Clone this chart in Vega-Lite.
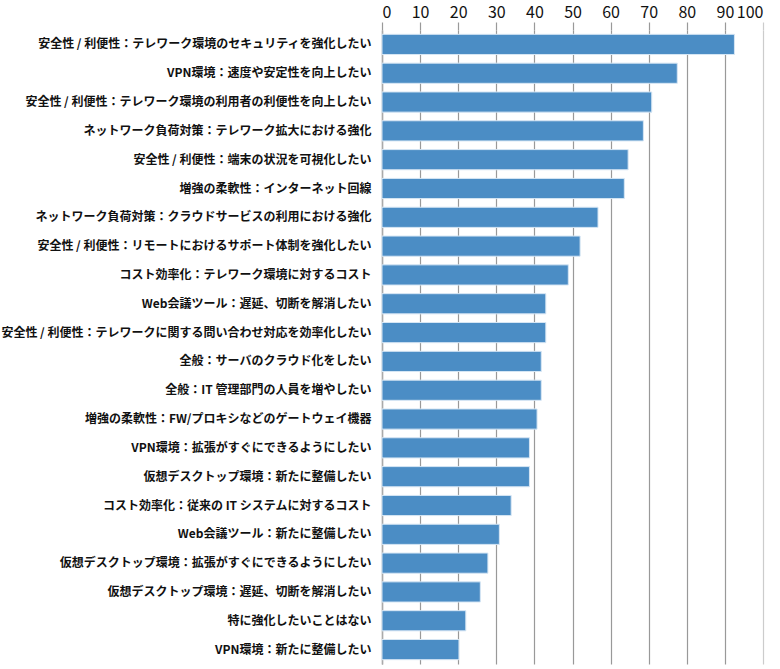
{
  "$schema": "https://vega.github.io/schema/vega-lite/v6.json",
  "width": 381,
  "height": 634,
  "padding": {"left": 0, "top": 4, "right": 10, "bottom": 4},
  "background": "white",
  "data": {
    "values": [
      {"item": "安全性 / 利便性：テレワーク環境のセキュリティを強化したい", "value": 92.5},
      {"item": "VPN環境：速度や安定性を向上したい", "value": 77.5},
      {"item": "安全性 / 利便性：テレワーク環境の利用者の利便性を向上したい", "value": 70.8},
      {"item": "ネットワーク負荷対策：テレワーク拡大における強化", "value": 68.6},
      {"item": "安全性 / 利便性：端末の状況を可視化したい", "value": 64.6},
      {"item": "増強の柔軟性：インターネット回線", "value": 63.6},
      {"item": "ネットワーク負荷対策：クラウドサービスの利用における強化", "value": 56.7},
      {"item": "安全性 / 利便性：リモートにおけるサポート体制を強化したい", "value": 52.0},
      {"item": "コスト効率化：テレワーク環境に対するコスト", "value": 48.9},
      {"item": "Web会議ツール：遅延、切断を解消したい", "value": 43.0},
      {"item": "安全性 / 利便性：テレワークに関する問い合わせ対応を効率化したい", "value": 43.0},
      {"item": "全般：サーバのクラウド化をしたい", "value": 41.8},
      {"item": "全般：IT 管理部門の人員を増やしたい", "value": 41.8},
      {"item": "増強の柔軟性：FW/プロキシなどのゲートウェイ機器", "value": 40.7},
      {"item": "VPN環境：拡張がすぐにできるようにしたい", "value": 38.7},
      {"item": "仮想デスクトップ環境：新たに整備したい", "value": 38.7},
      {"item": "コスト効率化：従来の IT システムに対するコスト", "value": 33.9},
      {"item": "Web会議ツール：新たに整備したい", "value": 30.8},
      {"item": "仮想デスクトップ環境：拡張がすぐにできるようにしたい", "value": 27.8},
      {"item": "仮想デスクトップ環境：遅延、切断を解消したい", "value": 25.8},
      {"item": "特に強化したいことはない", "value": 22.0},
      {"item": "VPN環境：新たに整備したい", "value": 20.2}
    ]
  },
  "mark": {"type": "bar", "color": "#4b8dc5", "stroke": "#d6e6f4", "strokeWidth": 1},
  "encoding": {
    "y": {
      "field": "item",
      "type": "nominal",
      "sort": null,
      "scale": {"paddingInner": 0.3, "paddingOuter": 0.15},
      "axis": {
        "title": null,
        "ticks": false,
        "domain": true,
        "domainColor": "#aaaaaa",
        "domainWidth": 1.5,
        "labelFont": "Noto Sans CJK JP",
        "labelFontSize": 12,
        "labelFontWeight": "bold",
        "labelColor": "#111111",
        "labelPadding": 11,
        "labelLimit": 0
      }
    },
    "x": {
      "field": "value",
      "type": "quantitative",
      "scale": {"domain": [0, 100], "nice": false},
      "axis": {
        "orient": "top",
        "title": null,
        "values": [0, 10, 20, 30, 40, 50, 60, 70, 80, 90, 100],
        "grid": true,
        "gridColor": {"condition": {"test": "datum.value === 100", "value": "#cccccc"}, "value": "#999999"},
        "gridWidth": 1.2,
        "tickColor": {"condition": {"test": "datum.value === 100", "value": "#cccccc"}, "value": "#999999"},
        "tickSize": 8,
        "tickWidth": 1.2,
        "domain": false,
        "labelFont": "Noto Sans CJK JP",
        "labelFontSize": 16,
        "labelColor": "#111111",
        "labelPadding": 2
      }
    }
  },
  "config": {"view": {"stroke": null}}
}
